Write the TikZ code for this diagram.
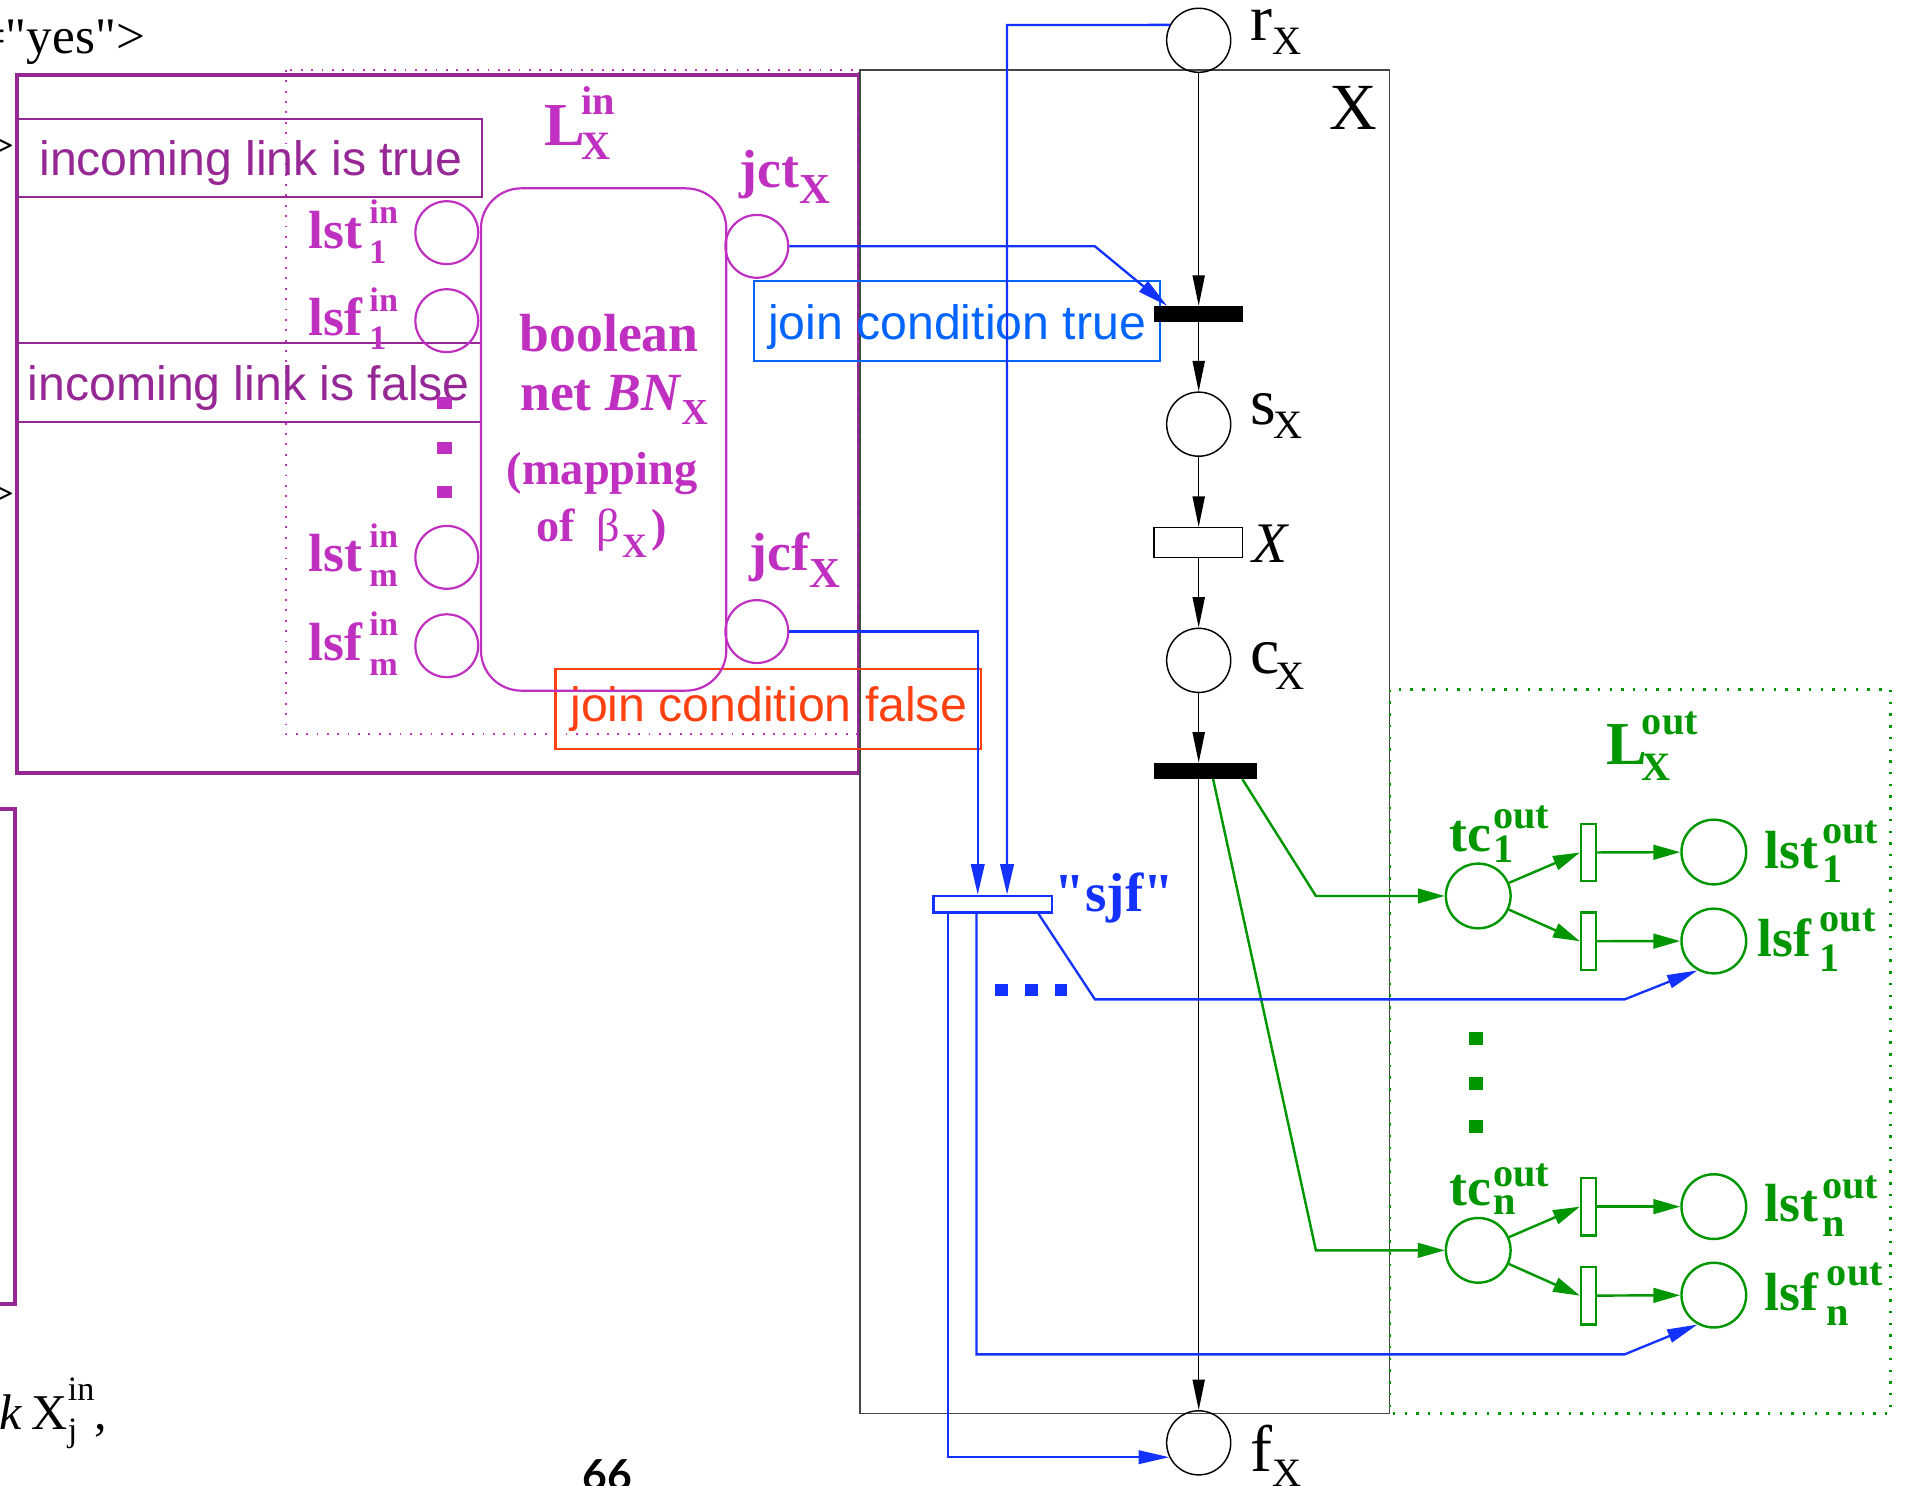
\documentclass[tikz,border=0pt]{standalone}
\usepackage{fontspec}
\setmainfont{Liberation Serif}[Ligatures=TeXOff]
\newfontfamily\hvfont{Liberation Sans}
\newfontfamily\pgfont{Lato}
\usetikzlibrary{arrows.meta,calc}
\definecolor{mag}{RGB}{192,48,192}
\definecolor{purp}{RGB}{150,40,150}
\definecolor{bl}{RGB}{20,50,255}
\definecolor{jtrue}{RGB}{0,100,255}
\definecolor{jfalse}{RGB}{255,64,16}
\definecolor{grn}{RGB}{0,150,0}
\definecolor{xbox}{RGB}{70,70,70}
% #1 sup, #2 sub, #3 size, #4 raise, #5 drop
\newcommand\mysupsub[5]{{\fontsize{#3}{#3}\selectfont
  \setbox0=\hbox{#1}\setbox2=\hbox{#2}%
  \dimen0=\wd0 \ifdim\wd2>\dimen0 \dimen0=\wd2 \fi
  \rlap{\raise#4pt\box0}\rlap{\lower#5pt\box2}\hskip\dimen0}}
\tikzset{
 lab/.style={inner sep=0pt, anchor=base west},
 bpl/.style={circle, draw=black, line width=1.2pt, minimum size=52.5pt, inner sep=0pt},
 mpl/.style={circle, draw=mag, line width=1.8pt, minimum size=51.5pt, inner sep=0pt},
 gpl/.style={circle, draw=grn, line width=2pt, minimum size=53pt, inner sep=0pt},
 blackbar/.style={rectangle, fill=black, inner sep=0pt, minimum height=13pt},
 gtr/.style={rectangle, draw=grn, line width=2pt, inner sep=0pt, minimum width=12pt, minimum height=47pt},
 karr/.style={draw=black, line width=1.1pt, -{Triangle[length=25pt,width=10pt]}},
 barr/.style={draw=bl, line width=1.9pt, -{Triangle[length=25pt,width=11pt]}},
 garr/.style={draw=grn, line width=2pt, -{Triangle[length=22pt,width=12pt]}},
 dotsq/.style={rectangle, inner sep=0pt, minimum width=11pt, minimum height=11pt},
 blab/.style={lab, font=\fontsize{54}{54}\selectfont},
 mlab/.style={lab, text=mag, font=\bfseries\fontsize{44}{44}\selectfont},
 glab/.style={lab, text=grn, font=\bfseries\fontsize{44}{44}\selectfont},
 boxtext/.style={lab, font=\hvfont\fontsize{39.5}{39.5}\selectfont},
}
\begin{document}
\begin{tikzpicture}[x=1pt,y=-1pt]
\useasboundingbox (0,0) rectangle (1568,1217);

% ---------- containers ----------
\draw[purp, line width=3.4pt] (14,61.4) rectangle (704,633);
\draw[mag, line width=1.5pt, dash pattern=on 1.5pt off 7pt] (234,57.3) rectangle (704,601.5);
\draw[xbox, line width=1.2pt] (704.5,57.3) rectangle (1138.5,1157.8);
\draw[grn, line width=2pt, dash pattern=on 2pt off 7.6pt] (1138.6,565) rectangle (1548.8,1157.8);
\draw[purp, line width=3.4pt] (-5,663) -- (12.3,663) -- (12.3,1068) -- (-5,1068);

% ---------- stray text ----------
\node[lab, font=\fontsize{42}{42}\selectfont] (yes) at (-19,44) {="yes">};
\node[lab, font=\fontsize{41}{41}\selectfont] (gtA) at (-11,133) {>};
\node[lab, font=\fontsize{41}{41}\selectfont] (gtB) at (-11,418) {>};
\node[lab, font=\fontsize{41}{41}\selectfont] (kx) at (-1,1171) {\textit{k}\hspace{8pt}X\mysupsub{in}{j}{28}{24}{10},};
\node[lab, font=\pgfont\bfseries\fontsize{35}{35}\selectfont] (pg) at (477,1221) {66};

% ---------- boxes with text ----------
\node[draw=purp, line width=1.6pt, inner sep=0pt, minimum width=381pt, minimum height=64.2pt] (inT) at (204.5,129.6) {};
\node[boxtext, text=purp] (inTt) at (32,144) {incoming link is true};
\node[draw=purp, line width=1.6pt, inner sep=0pt, minimum width=380pt, minimum height=64.7pt] (inF) at (204,313.65) {};
\node[boxtext, text=purp] (inFt) at (22.5,327.8) {incoming link is false};
\node[draw=jtrue, line width=1.8pt, inner sep=0pt, minimum width=332pt, minimum height=66pt] (jT) at (784,263) {};
\node[boxtext, text=jtrue] (jTt) at (629,278.5) {join condition true};
\node[draw=jfalse, line width=1.8pt, inner sep=0pt, minimum width=348.6pt, minimum height=65.6pt] (jF) at (629.3,580.8) {};
\node[boxtext, text=jfalse] (jFt) at (467,591.2) {join condition false};

% ---------- L_X^in ----------
\node[draw=mag, line width=1.8pt, rounded corners=33pt, inner sep=0pt, minimum width=201pt, minimum height=411.5pt] (bn) at (494.5,360.05) {};
\node[mpl] (lst1) at (366,190.6) {};
\node[mpl] (lsf1) at (366,262.7) {};
\node[mpl] (lstm) at (366,456.6) {};
\node[mpl] (lsfm) at (366,529) {};
\node[mpl] (jct) at (620,201.8) {};
\node[mpl] (jcf) at (620,517.4) {};
\foreach \y [count=\i] in {330,367,403} \node[dotsq, fill=mag, minimum width=12pt, minimum height=10pt] (md\i) at (364,\y) {};

\node[lab, text=mag, font=\bfseries\fontsize{50}{50}\selectfont] (Lin) at (445.5,119) {L\hspace{-3pt}\mysupsub{in}{X}{33}{25}{12}};
\node[mlab] (lst1l) at (252.5,203.4) {lst\hspace{6pt}\mysupsub{in}{1}{28}{20}{12.4}};
\node[mlab] (lsf1l) at (252.5,274.5) {lsf\hspace{6pt}\mysupsub{in}{1}{28}{19.5}{12.2}};
\node[mlab] (lstml) at (252.5,468.3) {lst\hspace{6pt}\mysupsub{in}{m}{28}{20}{12.3}};
\node[mlab] (lsfml) at (252.5,541) {lsf\hspace{6pt}\mysupsub{in}{m}{28}{20}{12}};
\node[mlab] (jctl) at (606,154) {jct\mysupsub{}{X}{35}{0}{13}};
\node[mlab] (jcfl) at (614,467.7) {jcf\mysupsub{}{X}{35}{0}{14}};
\node[mlab, anchor=base] (bn1) at (499,288) {boolean};
\node[mlab] (bn2) at (426,336) {net \textit{BN}\mysupsub{}{X}{30}{0}{12}};
\node[mlab, font=\bfseries\fontsize{38}{38}\selectfont] (bn3) at (415,397.3) {(mapping};
\node[mlab, font=\bfseries\fontsize{38}{38}\selectfont] (bn4) at (439.5,443.7) {of\hspace{17pt}{\mdseries β}\hspace{2pt}\mysupsub{}{X}{28}{0}{13}\hspace{4pt})};

% ---------- main column ----------
\node[bpl] (r) at (982,33) {};
\node[blackbar, minimum width=73pt] (bar1) at (981.75,257.2) {};
\node[bpl] (s) at (982,347.5) {};
\node[draw=black, line width=1.1pt, inner sep=0pt, minimum width=72.5pt, minimum height=24.7pt] (xt) at (981.75,444.6) {};
\node[bpl] (c) at (982,541) {};
\node[blackbar, minimum width=84.5pt] (bar2) at (987.75,631.5) {};
\node[bpl] (f) at (982,1182) {};

\node[blab] (rl) at (1024,33) {r\mysupsub{}{X}{33}{0}{12}};
\node[blab] (sl) at (1024,348) {s\hspace{-2pt}\mysupsub{}{X}{33}{0}{11}};
\node[blab] (cl) at (1024,551.5) {c\hspace{-3pt}\mysupsub{}{X}{33}{0}{13}};
\node[blab] (fl) at (1024,1205.5) {f\mysupsub{}{X}{33}{0}{12}};
\node[blab] (xl) at (1089,106.5) {X};
\node[lab, font=\itshape\fontsize{47}{47}\selectfont] (xtl) at (1026,461) {X};

\draw[karr] (r) -- (r |- bar1.north);
\draw[karr] (bar1.south -| s) -- (s);
\draw[karr] (s) -- (s |- xt.north);
\draw[karr] (xt.south -| c) -- (c);
\draw[karr] (c) -- (c |- bar2.north);
\draw[karr] (bar2.south -| f) -- (f);

% ---------- sjf ----------
\node[draw=bl, fill=white, line width=2pt, inner sep=0pt, minimum width=97.4pt, minimum height=13.7pt] (sjf) at (813.3,740.85) {};
\node[lab, text=bl, font=\bfseries\fontsize{45}{45}\selectfont] (sjfl) at (864,747) {"sjf"};
\foreach \x [count=\i] in {820.5,845,869} \node[dotsq, fill=bl, minimum width=10pt, minimum height=10pt] (bd\i) at (\x,811) {};

\coordinate (rb) at (825,20.5);
\coordinate (jb) at (801,517.4);
\coordinate (jt) at (897,201.8);
\coordinate (tn) at (1331,1109.5);
\coordinate (d1) at (897,818.7);
\coordinate (d2) at (1331,818.7);

\draw[barr] (r.152) -- (rb) -- (rb |- sjf.north);
\draw[barr] (jcf.east) -- (jb) -- (jb |- sjf.north);
\draw[barr] (jct.east) -- (jt) -- ($(bar1.north west)+(11,0)$);

% ---------- L_X^out ----------
\node[gpl] (tc1) at (1211,734) {};
\node[gpl] (tcn) at (1211,1024.3) {};
\node[gpl] (lst1o) at (1404,698) {};
\node[gpl] (lsf1o) at (1404,770.9) {};
\node[gpl] (lstno) at (1404,988.5) {};
\node[gpl] (lsfno) at (1404,1061) {};
\node[gtr] (ta) at (1301.3,698.4) {};
\node[gtr] (tb) at (1301.3,771.1) {};
\node[gtr] (tc) at (1301.3,988.5) {};
\node[gtr] (td) at (1301.3,1061.4) {};
\foreach \y [count=\i] in {850.7,887.6,923} \node[dotsq, fill=grn] (gd\i) at (1209,\y) {};

\node[lab, text=grn, font=\bfseries\fontsize{50}{50}\selectfont] (Lout) at (1315.5,626.7) {L\hspace{-4pt}\mysupsub{out}{X}{33}{24.7}{12.3}};
\node[glab] (tc1l) at (1187,697.7) {tc\hspace{2pt}\mysupsub{out}{1}{33}{19}{9}};
\node[glab] (tcnl) at (1187,987.2) {tc\hspace{2pt}\mysupsub{out}{n}{33}{15}{8}};
\node[glab] (lst1l2) at (1445.5,711.3) {lst\hspace{3pt}\mysupsub{out}{1}{33}{20.3}{11.8}};
\node[glab] (lsf1l2) at (1439.5,783.7) {lsf\hspace{7pt}\mysupsub{out}{1}{33}{20.5}{12.3}};
\node[glab] (lstnl) at (1445.5,1000.8) {lst\hspace{3pt}\mysupsub{out}{n}{33}{19}{12.2}};
\node[glab] (lsfnl) at (1445.5,1073.2) {lsf\hspace{7pt}\mysupsub{out}{n}{33}{20.5}{12.3}};

\coordinate (g1) at (1078,734);
\coordinate (g2) at (1078,1024.3);
\draw[garr] ($(bar2.south east)+(-12.5,0)$) -- (g1) -- (tc1);
\draw[garr] ($(bar2.south west)+(48.5,0)$) -- (g2) -- (tcn);
\draw[garr] (tc1) -- (ta.west);
\draw[garr] (tc1) -- (tb.west);
\draw[garr] (ta) -- (lst1o);
\draw[garr] (tb) -- (lsf1o);
\draw[garr] (tcn) -- (tc.west);
\draw[garr] (tcn) -- (td.west);
\draw[garr] (tc) -- (lstno);
\draw[garr] (td) -- (lsfno);

% ---------- blue outputs of sjf ----------
\draw[barr] ($(sjf.south west)+(12.8,0)$) |- (f.206.4);
\draw[barr] ($(sjf.south west)+(36.4,0)$) |- (tn) -- (lsfno.241);
\draw[barr] ($(sjf.south east)+(-12.2,0)$) -- (d1) -- (d2) -- (lsf1o.241);
\end{tikzpicture}
\end{document}
